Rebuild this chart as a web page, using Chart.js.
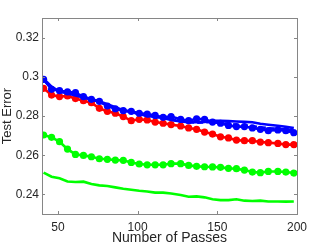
<!DOCTYPE html>
<html>
<head>
<meta charset="utf-8">
<script src="https://cdn.jsdelivr.net/npm/chart.js@4.4.1/dist/chart.umd.min.js"></script>
<style>
  html, body { margin: 0; padding: 0; background: #fff; }
  #wrap { width: 329px; height: 247px; }
</style>
</head>
<body>
<div id="wrap"><canvas id="myChart" width="329" height="247"></canvas></div>
<script>
// number of passes where each curve was sampled
const passes = [41, 46, 51, 56, 61, 66, 71, 76, 81, 86, 91, 96, 101, 106, 111, 116,
  121, 127, 132, 137, 142, 147, 152, 157, 162, 167, 172, 177, 182, 188, 193, 198];

const blueMarked = [0.2987, 0.2936, 0.2929, 0.2923, 0.2919, 0.2899, 0.2885, 0.2875,
  0.2851, 0.2837, 0.2827, 0.2824, 0.2814, 0.2810, 0.2803, 0.2793,
  0.2797, 0.2783, 0.2776, 0.2786, 0.2783, 0.2769, 0.2763, 0.2752,
  0.2746, 0.2746, 0.2739, 0.2732, 0.2725, 0.2729, 0.2725, 0.2715];
const blueSolid = [0.2990, 0.2950, 0.2925, 0.2915, 0.2905, 0.2895, 0.2885, 0.2875,
  0.2860, 0.2845, 0.2830, 0.2820, 0.2810, 0.2800, 0.2795, 0.2790,
  0.2780, 0.2772, 0.2768, 0.2768, 0.2770, 0.2775, 0.2775, 0.2774,
  0.2772, 0.2770, 0.2768, 0.2760, 0.2755, 0.2750, 0.2745, 0.2738];
const blueDashed = [0.2985, 0.2940, 0.2927, 0.2918, 0.2908, 0.2896, 0.2884, 0.2872,
  0.2856, 0.2840, 0.2828, 0.2820, 0.2810, 0.2802, 0.2796, 0.2790,
  0.2782, 0.2774, 0.2768, 0.2766, 0.2768, 0.2768, 0.2765, 0.2760,
  0.2755, 0.2752, 0.2748, 0.2742, 0.2738, 0.2735, 0.2732, 0.2727];
const redMarked = [0.2941, 0.2907, 0.2899, 0.2902, 0.2889, 0.2878, 0.2868, 0.2839,
  0.2824, 0.2814, 0.2797, 0.2776, 0.2783, 0.2780, 0.2769, 0.2763,
  0.2756, 0.2749, 0.2739, 0.2732, 0.2718, 0.2708, 0.2694, 0.2688,
  0.2677, 0.2674, 0.2674, 0.2667, 0.2664, 0.2660, 0.2654, 0.2654];
const greenMarked = [0.2703, 0.2691, 0.2669, 0.2631, 0.2604, 0.2599, 0.2592, 0.2582,
  0.2579, 0.2575, 0.2574, 0.2563, 0.2555, 0.2551, 0.2551, 0.2551,
  0.2557, 0.2557, 0.2548, 0.2543, 0.2541, 0.2540, 0.2538, 0.2533,
  0.2531, 0.2524, 0.2514, 0.2511, 0.2517, 0.2517, 0.2514, 0.2509];
const greenSolid = [0.2511, 0.2490, 0.2482, 0.2466, 0.2463, 0.2465, 0.2453, 0.2446,
  0.2443, 0.2436, 0.2429, 0.2424, 0.2419, 0.2415, 0.2409, 0.2409,
  0.2405, 0.2397, 0.2388, 0.2390, 0.2385, 0.2375, 0.2371, 0.2371,
  0.2375, 0.2368, 0.2366, 0.2368, 0.2364, 0.2364, 0.2363, 0.2364];

const xTicks = [50, 100, 150, 200];
const yTicks = [0.24, 0.26, 0.28, 0.3, 0.32];

const toPoints = (ys) => passes.map((x, i) => ({ x: x, y: ys[i] }));

function series(ys, color, marked, dash) {
  return {
    data: toPoints(ys),
    borderColor: color,
    backgroundColor: color,
    borderWidth: 2.6,
    borderDash: dash || [],
    pointRadius: marked ? 3.6 : 0,
    pointBorderWidth: 0,
    tension: 0,
  };
}

// MATLAB style box with inward ticks
const boxPlugin = {
  id: 'box',
  afterDraw(chart) {
    const { ctx, chartArea: a, scales } = chart;
    ctx.save();
    ctx.strokeStyle = '#868686';
    ctx.lineWidth = 1;
    ctx.strokeRect(a.left + 0.5, a.top + 0.5, a.right - a.left, a.bottom - a.top);
    ctx.beginPath();
    xTicks.forEach(v => {
      const px = Math.round(scales.x.getPixelForValue(v)) + 0.5;
      ctx.moveTo(px, a.bottom); ctx.lineTo(px, a.bottom - 3);
      ctx.moveTo(px, a.top); ctx.lineTo(px, a.top + 3);
    });
    yTicks.forEach(v => {
      const py = Math.round(scales.y.getPixelForValue(v)) + 0.5;
      ctx.moveTo(a.left, py); ctx.lineTo(a.left + 3, py);
      ctx.moveTo(a.right, py); ctx.lineTo(a.right - 3, py);
    });
    ctx.stroke();
    ctx.restore();
  }
};

const ctx = document.getElementById('myChart').getContext('2d');
new Chart(ctx, {
  type: 'line',
  data: {
    datasets: [
      series(blueMarked, '#0000ff', true),
      series(blueDashed, '#0000ff', false, [6, 3]),
      series(blueSolid, '#0000ff', false),
      series(redMarked, '#ff0000', true),
      series(greenMarked, '#00ff00', true),
      series(greenSolid, '#00ff00', false),
    ],
  },
  options: {
    responsive: false,
    animation: false,
    layout: { padding: { top: 18, right: 32, left: 0, bottom: 0 } },
    plugins: { legend: { display: false }, tooltip: { enabled: false } },
    scales: {
      x: {
        type: 'linear',
        min: 40,
        max: 200,
        afterBuildTicks: (s) => { s.ticks = xTicks.map(v => ({ value: v })); },
        afterFit: (s) => { s.height = 33; },
        grid: { display: false, drawTicks: false },
        border: { display: false },
        ticks: { color: '#262626', font: { family: 'Liberation Sans', size: 12 }, padding: 6, maxRotation: 0 },
        title: { display: true, text: 'Number of Passes', color: '#262626',
          font: { family: 'Liberation Sans', size: 14 }, padding: { top: 0, bottom: 0 } },
      },
      y: {
        min: 0.23,
        max: 0.33,
        afterBuildTicks: (s) => { s.ticks = yTicks.map(v => ({ value: v })); },
        afterFit: (s) => { s.width = 42; },
        grid: { display: false, drawTicks: false },
        border: { display: false },
        ticks: { color: '#262626', font: { family: 'Liberation Sans', size: 12 }, padding: 3,
          callback: (v) => String(+v.toFixed(2)) },
        title: { display: true, text: 'Test Error', color: '#262626',
          font: { family: 'Liberation Sans', size: 13 }, padding: 0 },
      },
    },
  },
  plugins: [boxPlugin],
});
</script>
</body>
</html>
